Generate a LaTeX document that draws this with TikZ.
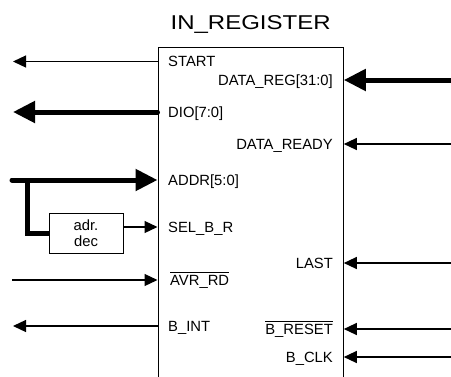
\documentclass[tikz,border=0pt]{standalone}
\usepackage{fontspec}
\setmainfont{Liberation Sans}
\newfontfamily\titlefont[FakeStretch=1.2]{Liberation Sans}
\usetikzlibrary{arrows.meta,positioning}
% active-low signal name
\newcommand{\lowact}[1]{\vbox{\hrule height 0.9pt\kern 2.5pt\hbox{#1}}}

\begin{document}
\begin{tikzpicture}[
    x=1pt,y=-1pt,
    chip/.style={draw,line width=1.3pt,anchor=north west,minimum width=185pt,minimum height=360pt,inner sep=0pt},
    pin/.style={font=\fontsize{14.8}{16}\selectfont,inner sep=0pt,text height=10.6pt,text depth=0pt},
    dec/.style={draw,line width=1pt,minimum width=74pt,minimum height=40pt,align=center,font=\fontsize{14.8}{16}\selectfont},
    wire/.style={-{Triangle[length=13pt,width=12pt]},line width=1.2pt},
    bus/.style={-{Triangle[length=22pt,width=21pt]},line width=5pt}
]
\useasboundingbox (0,0) rectangle (451,376);

\node[chip] (reg) at (157.5,47) {};
\node[above=17pt of reg.north,anchor=south,inner sep=0pt,text height=14.3pt,text depth=0pt,font=\titlefont\fontsize{20}{20}\selectfont] (title) {IN\_REGISTER};
\node[dec] (adr) at (86,233) {adr.\\dec};

% left side pins
\node[pin,anchor=west] (start) at (168,61.5) {START};
\node[pin,anchor=west] (dio) at (168,112) {DIO[7:0]};
\node[pin,anchor=west] (addr) at (168,180) {ADDR[5:0]};
\node[pin,anchor=west] (sel) at (168,227) {SEL\_B\_R};
\node[pin,anchor=west] (avrrd) at (170,280) {\lowact{AVR\_RD}};
\node[pin,anchor=west] (bint) at (168,326) {B\_INT};

% right side pins
\node[pin,anchor=east] (datareg) at (333,80) {DATA\_REG[31:0]};
\node[pin,anchor=east] (ready) at (333,144) {DATA\_READY};
\node[pin,anchor=east] (last) at (333,263) {LAST};
\node[pin,anchor=east] (breset) at (333,329) {\lowact{B\_RESET}};
\node[pin,anchor=east] (bclk) at (333,357) {B\_CLK};

% free ends
\coordinate (startout) at (13,61.5);
\coordinate (dioout) at (13,112);
\coordinate (addrin) at (12,180);
\coordinate (tap) at (27,180);
\coordinate (avrrdin) at (12,280);
\coordinate (bintout) at (13,326);
\coordinate (dataregin) at (451,80);
\coordinate (readyin) at (451,144);
\coordinate (lastin) at (451,263);
\coordinate (bresetin) at (451,329);
\coordinate (bclkin) at (451,357);

% outputs to the left
\draw[wire] (reg.west |- start) -- (startout);
\draw[bus,line cap=round] (reg.west |- dio) -- (dioout);
\draw[wire] (reg.west |- bint) -- (bintout);

% inputs from the left, address goes through the decoder too
\draw[bus,line cap=round] (addrin) -- (reg.west |- addr);
\draw[line width=5pt] (tap) |- (adr.west);
\draw[wire] (adr.east |- sel) -- (reg.west |- sel);
\draw[wire] (avrrdin) -- (reg.west |- avrrd);

% inputs from the right
\draw[bus] (dataregin) -- (reg.east |- datareg);
\draw[wire] (readyin) -- (reg.east |- ready);
\draw[wire] (lastin) -- (reg.east |- last);
\draw[wire] (bresetin) -- (reg.east |- breset);
\draw[wire] (bclkin) -- (reg.east |- bclk);
\end{tikzpicture}
\end{document}
